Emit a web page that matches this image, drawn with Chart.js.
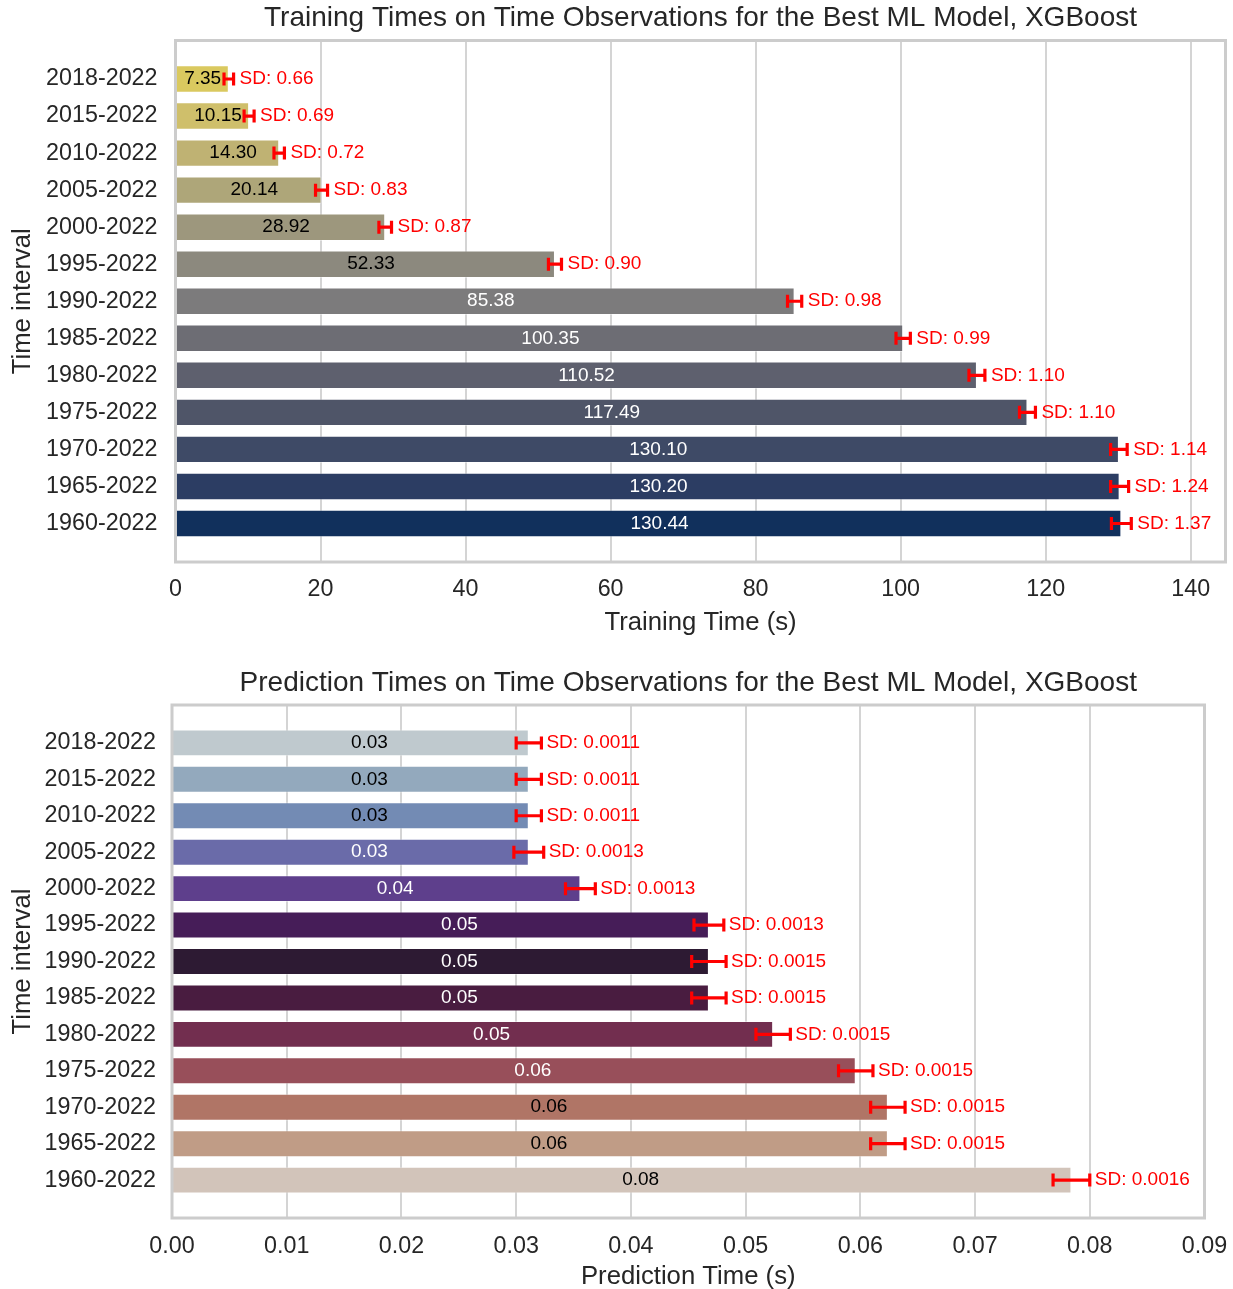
<!DOCTYPE html>
<html>
<head>
<meta charset="utf-8">
<script src="https://cdn.jsdelivr.net/npm/chart.js@4.4.1/dist/chart.umd.min.js"></script>
<style>
  html, body { margin: 0; padding: 0; background: #ffffff; }
  #wrap { position: relative; width: 1233px; height: 1289px; overflow: hidden; }
  canvas { position: absolute; left: 0; }
  #train { top: 0; }
  #pred { top: 645px; }
</style>
</head>
<body>
<div id="wrap">
  <canvas id="train" width="1233" height="645"></canvas>
  <canvas id="pred" width="1233" height="644"></canvas>
</div>
<script>
// Time intervals, top row first
const intervals = ['2018-2022', '2015-2022', '2010-2022', '2005-2022', '2000-2022', '1995-2022', '1990-2022',
                   '1985-2022', '1980-2022', '1975-2022', '1970-2022', '1965-2022', '1960-2022'];

// Training time (s): mean and standard deviation
const trainMeans = [7.35, 10.15, 14.30, 20.14, 28.92, 52.33, 85.38, 100.35, 110.52, 117.49, 130.10, 130.20, 130.44];
const trainSD    = [0.66, 0.69, 0.72, 0.83, 0.87, 0.90, 0.98, 0.99, 1.10, 1.10, 1.14, 1.24, 1.37];

// Prediction time (s): mean and standard deviation
const predMeans = [0.0311, 0.0311, 0.0311, 0.0311, 0.0356, 0.0468, 0.0468, 0.0468, 0.0524, 0.0596, 0.0624, 0.0624, 0.0784];
const predSD    = [0.0011, 0.0011, 0.0011, 0.0013, 0.0013, 0.0013, 0.0015, 0.0015, 0.0015, 0.0015, 0.0015, 0.0015, 0.0016];

// Axis tick values
const trainTicks = [0, 20, 40, 60, 80, 100, 120, 140];
const predTicks  = [0, 0.01, 0.02, 0.03, 0.04, 0.05, 0.06, 0.07, 0.08, 0.09];

// Bar palettes
const trainColors = ['#dac95f', '#cfbf6b', '#bfb273', '#aea679', '#9d977d', '#8c897e', '#7c7b7c',
                     '#6d6d74', '#5e606e', '#4f5568', '#3e4a66', '#2c3d63', '#11305c'];
const predColors  = ['#bfc9ce', '#93a9bd', '#738bb4', '#6a6ba9', '#5e3f8c', '#461d58', '#2d1a33',
                     '#491c40', '#722e4f', '#984f5a', '#b07566', '#c09c86', '#d2c4ba'];

const FONT = "'Liberation Sans', Arial, Helvetica, sans-serif";
const INK = '#262626';

// Black text on light bars, white text on dark bars
function inkFor(hex) {
  const n = parseInt(hex.slice(1), 16);
  const r = (n >> 16) & 255, g = (n >> 8) & 255, b = n & 255;
  return (0.299 * r + 0.587 * g + 0.114 * b) / 255 > 0.5 ? '#000000' : '#ffffff';
}

// Error bars, value labels, SD labels, frame and title
const overlay = {
  id: 'overlay',
  afterDatasetsDraw(chart, args, o) {
    const { ctx, chartArea: a } = chart;
    const x = chart.scales.x, y = chart.scales.y;
    ctx.save();
    o.means.forEach((m, i) => {
      const py = y.getPixelForValue(i);
      const lo = x.getPixelForValue(m - o.sds[i]);
      const hi = x.getPixelForValue(m + o.sds[i]);
      ctx.strokeStyle = '#ff0000';
      ctx.lineWidth = 3.2;
      ctx.lineCap = 'butt';
      ctx.beginPath();
      ctx.moveTo(lo, py); ctx.lineTo(hi, py);
      ctx.moveTo(lo, py - 6.5); ctx.lineTo(lo, py + 6.5);
      ctx.moveTo(hi, py - 6.5); ctx.lineTo(hi, py + 6.5);
      ctx.stroke();

      ctx.font = '19px ' + FONT;
      ctx.textBaseline = 'middle';
      ctx.textAlign = 'left';
      const mid = (x.getPixelForValue(0) + x.getPixelForValue(m)) / 2;
      ctx.fillStyle = inkFor(o.colors[i]);
      ctx.fillText(m.toFixed(2), mid + o.labelShift, py);

      ctx.fillStyle = '#ff0000';
      ctx.fillText('SD: ' + o.sds[i].toFixed(o.sdDigits), hi + o.sdGap, py);
    });

    ctx.strokeStyle = '#cccccc';
    ctx.lineWidth = 3;
    ctx.strokeRect(a.left, a.top, a.right - a.left, a.bottom - a.top);

    ctx.fillStyle = INK;
    ctx.font = '28px ' + FONT;
    ctx.textAlign = 'center';
    ctx.textBaseline = 'middle';
    ctx.fillText(o.title, (a.left + a.right) / 2, o.titleY);
    ctx.restore();
  }
};

function buildChart(el, cfg) {
  return new Chart(el, {
    type: 'bar',
    data: {
      datasets: [{
        data: cfg.means.map((v, i) => ({ x: v, y: i })),
        backgroundColor: cfg.colors,
        borderColor: 'rgba(255,255,255,0.4)',
        borderWidth: 1,
        categoryPercentage: 1,
        barPercentage: 0.74
      }]
    },
    options: {
      indexAxis: 'y',
      responsive: false,
      animation: false,
      devicePixelRatio: 1,
      layout: { padding: cfg.padding },
      plugins: {
        legend: { display: false },
        tooltip: { enabled: false },
        overlay: {
          means: cfg.means, sds: cfg.sds, colors: cfg.colors,
          sdDigits: cfg.sdDigits, labelShift: cfg.labelShift, sdGap: cfg.sdGap,
          title: cfg.title, titleY: cfg.titleY
        }
      },
      scales: {
        x: {
          type: 'linear',
          position: 'bottom',
          min: 0,
          max: cfg.xMax,
          afterBuildTicks: s => { s.ticks = cfg.ticks.map(v => ({ value: v })); },
          afterFit: s => { s.height = cfg.xAxisHeight; s.paddingLeft = 0; s.paddingRight = 0; },
          grid: { color: '#d4d4d4', lineWidth: 2, drawTicks: false },
          border: { display: false },
          ticks: {
            font: { family: FONT, size: 23.3 }, color: INK, padding: cfg.xTickPad,
            autoSkip: false, maxRotation: 0, callback: v => cfg.tickFormat(v)
          },
          title: {
            display: true, text: cfg.xTitle, color: INK,
            font: { family: FONT, size: 25.7 }, padding: { top: 0, bottom: cfg.xTitlePad }
          }
        },
        y: {
          type: 'linear',
          reverse: true,
          offset: false,
          min: -1.04,
          max: 13.04,
          afterBuildTicks: s => { s.ticks = intervals.map((_, i) => ({ value: i })); },
          afterFit: s => { s.width = cfg.yAxisWidth; s.paddingTop = 0; s.paddingBottom = 0; },
          grid: { display: false, drawTicks: false },
          border: { display: false },
          ticks: {
            font: { family: FONT, size: 23.3 }, color: INK, padding: cfg.yTickPad,
            autoSkip: false, callback: v => intervals[v]
          },
          title: {
            display: true, text: 'Time interval', color: INK,
            font: { family: FONT, size: 25.7 }, padding: { top: 7.6, bottom: 0 }
          }
        }
      }
    },
    plugins: [overlay]
  });
}

buildChart(document.getElementById('train'), {
  means: trainMeans, sds: trainSD, colors: trainColors, ticks: trainTicks,
  xMax: 144.8, sdDigits: 2, labelShift: -18, sdGap: 6,
  tickFormat: v => String(v),
  title: 'Training Times on Time Observations for the Best ML Model, XGBoost', titleY: 18,
  xTitle: 'Training Time (s)',
  padding: { left: 0, right: 7.5, top: 40.5, bottom: 0 },
  yAxisWidth: 175.5, xAxisHeight: 83, xTickPad: 14, yTickPad: 18, xTitlePad: 6.6
});

buildChart(document.getElementById('pred'), {
  means: predMeans, sds: predSD, colors: predColors, ticks: predTicks,
  xMax: 0.09, sdDigits: 4, labelShift: 0.5, sdGap: 5,
  tickFormat: v => v.toFixed(2),
  title: 'Prediction Times on Time Observations for the Best ML Model, XGBoost', titleY: 38,
  xTitle: 'Prediction Time (s)',
  padding: { left: 0, right: 28.5, top: 60, bottom: 0 },
  yAxisWidth: 172, xAxisHeight: 71, xTickPad: 15, yTickPad: 16, xTitlePad: -3
});
</script>
</body>
</html>
